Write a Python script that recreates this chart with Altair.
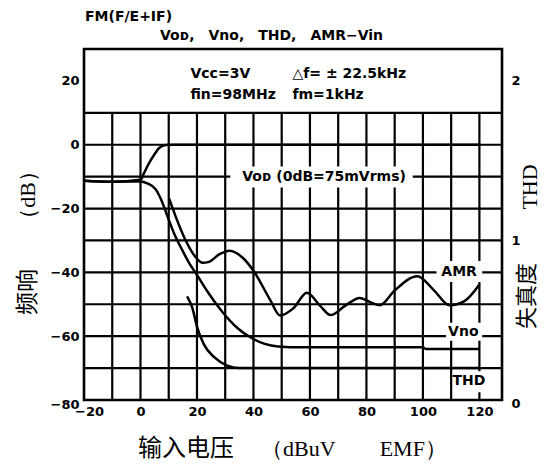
import altair as alt
import pandas as pd

# ---------------- data ----------------
# Voo (output level, dB)
voo_x = [-20, -10, 0, 1.2, 3, 4.8, 6.5, 9, 12, 120]
voo_y = [-11.3, -11.6, -11.0, -9.0, -5.8, -3.2, -1.1, -0.1, 0, 0]
# Vno (noise, dB)
vno_x = [-20, -10, 0, 2.4, 5.4, 7.7, 9.5, 11.9, 14.9, 17.3, 20, 23.7, 29, 34.4,
         39.2, 44, 48.7, 57, 100, 101, 120]
vno_y = [-11.3, -11.6, -11.5, -12.1, -14, -18, -22.3, -27.8, -33.2, -37.2, -40.8,
         -46, -52.4, -57.5, -60.5, -62.4, -63.2, -63.5, -63.5, -64, -64]
# AMR (dB)
amr_x = [10.1, 12.5, 16, 19.6, 22, 24, 28, 31.5, 36.3, 40, 45.9, 49.4, 54.2, 58.9,
         63.7, 67.3, 72.4, 77.6, 81.8, 84.7, 90, 98, 104, 109.4, 114.7, 120]
amr_y = [-16.8, -22.6, -30, -35.3, -37, -36.8, -34.3, -33.2, -35.5, -39.5, -48.6,
         -53.5, -51.2, -46.4, -50.6, -53.4, -50.5, -48, -49.5, -50.3, -45.7, -41.2,
         -45.7, -50.3, -49, -43.8]
# THD (%), right axis
thd_x = [16.5, 18.3, 20, 22.4, 26, 30.7, 35, 120]
thd_v = [0.65, 0.58, 0.46, 0.35, 0.27, 0.216, 0.2, 0.2]

# axes
x_domain = [-20, 128]
y_domain = [-80, 30]
thd_domain = [0, 2.2]
x_ticks = [-20, 0, 20, 40, 60, 80, 100, 120]
y_ticks = [20, 0, -20, -40, -60, -80]
thd_ticks = [0, 1, 2]
v_grid = list(range(-10, 121, 10))
h_grid = list(range(-70, 11, 10))

# curve labels (text, anchor x, anchor y) and their white boxes
lab_text = ["Voᴅ (0dB=75mVrms)", "AMR", "Vno", "THD"]
lab_x = [65, 112.8, 114.3, 116.3]
lab_y = [-10, -40, -58.6, -74.2]
box_x0 = [31.8, 104.8, 108.2, 110.6]
box_x1 = [96.4, 121.0, 121.0, 122.5]
box_y0 = [-6.8, -36.4, -55.8, -71.0]
box_y1 = [-13.4, -43.0, -61.4, -77.6]

# condition text in the top box
cond_text = ["Vcc=3V", "△f= ± 22.5kHz", "fin=98MHz", "fm=1kHz"]
cond_x = [17.7, 53.8, 17.7, 53.8]
cond_y = [22.3, 22.3, 15.6, 15.6]

W, H = 418, 351
BOLD = "DejaVu Sans"
SP = "\u2003"

xs = alt.Scale(domain=x_domain, nice=False, zero=False)
ys = alt.Scale(domain=y_domain, nice=False, zero=False)
ts = alt.Scale(domain=thd_domain, nice=False, zero=False)

x_axis = alt.Axis(values=x_ticks, title=None, labelPadding=5, labelFlush=False,
                  labelOffset={"condition": {"test": "datum.value == -20", "value": 5}, "value": 0})
y_axis = alt.Axis(values=y_ticks, title=None, labelPadding=5, labelFlush=False,
                  labelOffset={"condition": {"test": "datum.value == -80", "value": 4}, "value": 0})
t_axis = alt.Axis(values=thd_ticks, title=None, orient="right", labelPadding=9, labelFlush=False,
                  labelOffset={"condition": {"test": "datum.value == 0", "value": 3}, "value": 0})


def X(field):
    return alt.X(field, type="quantitative", scale=xs, axis=x_axis)


def Y(field):
    return alt.Y(field, type="quantitative", scale=ys, axis=y_axis)


hrule = alt.Chart(pd.DataFrame({"y": h_grid, "x0": x_domain[0], "x1": x_domain[1]})).mark_rule(
    color="black", strokeWidth=2.2).encode(x=X("x0"), x2="x1", y=Y("y"))
vrule = alt.Chart(pd.DataFrame({"x": v_grid, "y0": -80, "y1": 10})).mark_rule(
    color="black", strokeWidth=2.2).encode(x=X("x"), y=Y("y0"), y2="y1")

boxes = alt.Chart(pd.DataFrame({"x0": box_x0, "x1": box_x1, "y0": box_y0, "y1": box_y1})).mark_rect(
    color="white").encode(x=X("x0"), x2="x1", y=Y("y0"), y2="y1")

curves_df = pd.concat([
    pd.DataFrame({"x": voo_x, "y": voo_y, "s": "Voo"}),
    pd.DataFrame({"x": vno_x, "y": vno_y, "s": "Vno"}),
    pd.DataFrame({"x": amr_x, "y": amr_y, "s": "AMR"}),
])
curves = alt.Chart(curves_df).mark_line(color="black", strokeWidth=2.5, interpolate="monotone").encode(
    x=X("x"), y=Y("y"), detail="s:N")

labels = alt.Chart(pd.DataFrame({"t": lab_text, "x": lab_x, "y": lab_y})).mark_text(
    font=BOLD, fontWeight="bold", fontSize=14, color="black", baseline="middle").encode(
    x=X("x"), y=Y("y"), text="t:N")

cond = alt.Chart(pd.DataFrame({"t": cond_text, "x": cond_x, "y": cond_y})).mark_text(
    font=BOLD, fontWeight="bold", fontSize=14, color="black", align="left", baseline="middle").encode(
    x=X("x"), y=Y("y"), text="t:N")


def ptext(txt, px, py, **kw):
    return alt.Chart(pd.DataFrame({"t": [txt]})).mark_text(color="black", **kw).encode(
        x=alt.value(px), y=alt.value(py), text="t:N")


titles = [
    ptext("FM(F/E+IF)", 1, -32, font=BOLD, fontWeight="bold", fontSize=14, align="left", baseline="middle"),
    ptext("Voᴅ," + SP + "Vno," + SP + "THD," + SP + "AMR−Vin", 76, -13, font=BOLD, fontWeight="bold",
          fontSize=14, align="left", baseline="middle"),
    ptext("频响", -56, 243, font="Noto Sans CJK SC", fontSize=23, angle=270, align="center", baseline="middle"),
    ptext("（dB）", -56, 146, font="Liberation Serif", fontSize=22, angle=270, align="center", baseline="middle"),
    ptext("输入电压", 102, 400, font="Noto Sans CJK SC", fontSize=24, align="center", baseline="middle"),
    ptext("（dBuV" + SP + SP + "EMF）", 270, 400, font="Liberation Serif", fontSize=22, align="center",
          baseline="middle"),
    ptext("THD", 446, 138, font="Liberation Serif", fontSize=22, angle=270, align="center", baseline="middle"),
    ptext("失真度", 443, 247, font="Noto Sans CJK SC", fontSize=22, angle=270, align="center", baseline="middle"),
]

db_group = alt.layer(hrule, vrule, boxes, curves, labels, cond, *titles)

thd = alt.Chart(pd.DataFrame({"x": thd_x, "v": thd_v})).mark_line(
    color="black", strokeWidth=2.5, interpolate="monotone").encode(
    x=X("x"), y=alt.Y("v:Q", scale=ts, axis=t_axis))

chart = alt.layer(db_group, thd).resolve_scale(y="independent").properties(
    width=W, height=H,
    autosize=alt.AutoSizeParams(type="none"),
    padding={"left": 76, "top": 41, "right": 41, "bottom": 67},
).configure_view(stroke="black", strokeWidth=2.6).configure_axis(
    ticks=False, domain=False, grid=False,
    labelFont=BOLD, labelFontWeight="bold", labelFontSize=13, labelColor="black",
)

chart.save("out.html", embed_options={"renderer": "svg", "actions": False})
